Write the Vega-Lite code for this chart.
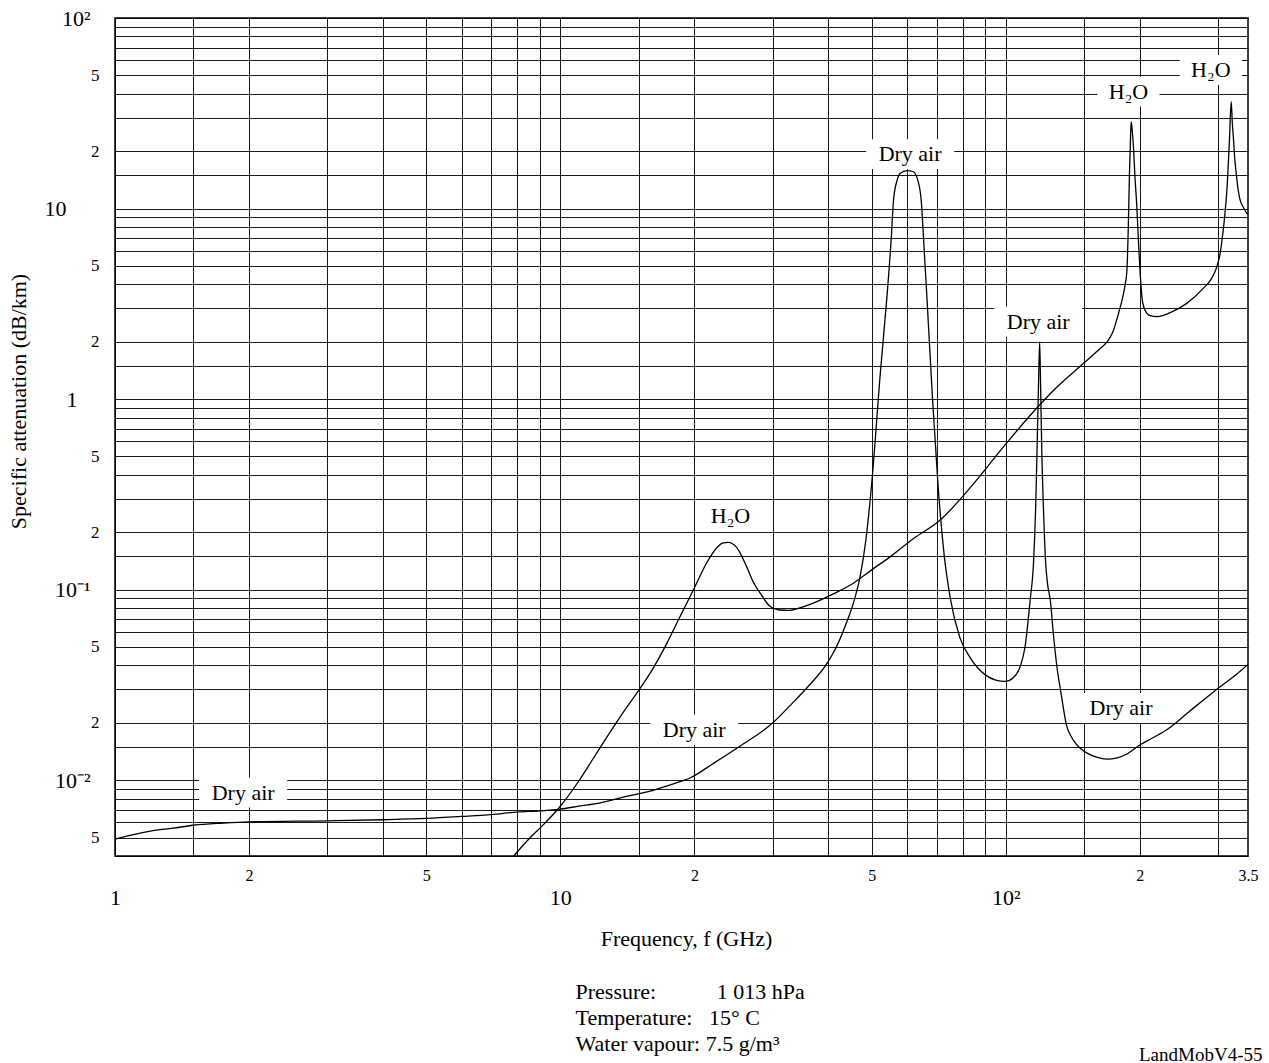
{
  "$schema": "https://vega.github.io/schema/vega-lite/v6.json",
  "width": 1133,
  "height": 838,
  "autosize": {"type": "none"},
  "padding": {"left": 115, "top": 18, "right": 21, "bottom": 207},
  "background": "white",
  "config": {
    "view": {"stroke": "black", "strokeWidth": 1.5},
    "font": "Liberation Serif",
    "axis": {"labelFont": "Liberation Serif", "titleFont": "Liberation Serif", "labelColor": "black", "titleColor": "black", "titleFontWeight": "normal", "labelFlush": false, "labelOverlap": false, "labelBound": false, "ticks": false, "domain": false},
    "title": {"font": "Liberation Serif", "fontWeight": "normal", "color": "black"}
  },
  "title": {"text": "(\u00a0\u00a0\u00a0\u00a0\u00a0\u00a0\u00a0\u00a0\u00a0\u00a0\u00a0\u00a0\u00a0\u00a0\u00a0\u00a0\u00a0\u00a0\u00a0\u00a0\u00a0\u00a0\u00a0)", "orient": "top", "anchor": "middle", "fontSize": 22, "baseline": "alphabetic", "offset": 6, "dx": -37},
  "datasets": {
    "curves": [
      {"series": "dry", "f": 1, "v": 0.0049}, {"series": "dry", "f": 1.1, "v": 0.00518}, {"series": "dry", "f": 1.2, "v": 0.0054}, {"series": "dry", "f": 1.35, "v": 0.0056}, {"series": "dry", "f": 1.5, "v": 0.0058}, {"series": "dry", "f": 1.75, "v": 0.00595}, {"series": "dry", "f": 2, "v": 0.00604}, {"series": "dry", "f": 3, "v": 0.00612}, {"series": "dry", "f": 4, "v": 0.0062}, {"series": "dry", "f": 5, "v": 0.0063}, {"series": "dry", "f": 6, "v": 0.00645}, {"series": "dry", "f": 7, "v": 0.0066}, {"series": "dry", "f": 8, "v": 0.0068}, {"series": "dry", "f": 9, "v": 0.0069}, {"series": "dry", "f": 10, "v": 0.00705}, {"series": "dry", "f": 11, "v": 0.0073}, {"series": "dry", "f": 12.3, "v": 0.0076}, {"series": "dry", "f": 14, "v": 0.0082}, {"series": "dry", "f": 16, "v": 0.0088}, {"series": "dry", "f": 18, "v": 0.0096}, {"series": "dry", "f": 19.6, "v": 0.0103}, {"series": "dry", "f": 22, "v": 0.0122}, {"series": "dry", "f": 25, "v": 0.0148}, {"series": "dry", "f": 30, "v": 0.02}, {"series": "dry", "f": 33, "v": 0.025}, {"series": "dry", "f": 36, "v": 0.031}, {"series": "dry", "f": 39.7, "v": 0.041}, {"series": "dry", "f": 42, "v": 0.052}, {"series": "dry", "f": 44, "v": 0.068}, {"series": "dry", "f": 45.5, "v": 0.085}, {"series": "dry", "f": 47.1, "v": 0.117}, {"series": "dry", "f": 48.5, "v": 0.18}, {"series": "dry", "f": 50.1, "v": 0.377}, {"series": "dry", "f": 52.3, "v": 1.37}, {"series": "dry", "f": 54.2, "v": 3.6}, {"series": "dry", "f": 55.3, "v": 6.8}, {"series": "dry", "f": 56, "v": 11.1}, {"series": "dry", "f": 57, "v": 14}, {"series": "dry", "f": 58, "v": 15.3}, {"series": "dry", "f": 60, "v": 15.8}, {"series": "dry", "f": 62, "v": 15.6}, {"series": "dry", "f": 63.4, "v": 14.2}, {"series": "dry", "f": 64.6, "v": 11.1}, {"series": "dry", "f": 65.5, "v": 6.5}, {"series": "dry", "f": 66.6, "v": 3.3}, {"series": "dry", "f": 68.5, "v": 1.0}, {"series": "dry", "f": 70.5, "v": 0.35}, {"series": "dry", "f": 72.8, "v": 0.15}, {"series": "dry", "f": 75.1, "v": 0.09}, {"series": "dry", "f": 78.9, "v": 0.056}, {"series": "dry", "f": 83.2, "v": 0.044}, {"series": "dry", "f": 90, "v": 0.0357}, {"series": "dry", "f": 95, "v": 0.0335}, {"series": "dry", "f": 99.7, "v": 0.033}, {"series": "dry", "f": 104, "v": 0.0345}, {"series": "dry", "f": 107.8, "v": 0.0395}, {"series": "dry", "f": 110.5, "v": 0.05}, {"series": "dry", "f": 113.5, "v": 0.0885}, {"series": "dry", "f": 115.5, "v": 0.14}, {"series": "dry", "f": 116.8, "v": 0.28}, {"series": "dry", "f": 117.6, "v": 0.54}, {"series": "dry", "f": 118.5, "v": 1.2}, {"series": "dry", "f": 119.2, "v": 2.0}, {"series": "dry", "f": 119.8, "v": 1.15}, {"series": "dry", "f": 120.5, "v": 0.54}, {"series": "dry", "f": 121.6, "v": 0.26}, {"series": "dry", "f": 122.9, "v": 0.14}, {"series": "dry", "f": 124.3, "v": 0.105}, {"series": "dry", "f": 125.9, "v": 0.0885}, {"series": "dry", "f": 128, "v": 0.058}, {"series": "dry", "f": 130.3, "v": 0.0395}, {"series": "dry", "f": 133, "v": 0.029}, {"series": "dry", "f": 137.2, "v": 0.0191}, {"series": "dry", "f": 140, "v": 0.0171}, {"series": "dry", "f": 143, "v": 0.0158}, {"series": "dry", "f": 147, "v": 0.0147}, {"series": "dry", "f": 152, "v": 0.0139}, {"series": "dry", "f": 160, "v": 0.0132}, {"series": "dry", "f": 168.7, "v": 0.0129}, {"series": "dry", "f": 178, "v": 0.0131}, {"series": "dry", "f": 188, "v": 0.0138}, {"series": "dry", "f": 200, "v": 0.0153}, {"series": "dry", "f": 215, "v": 0.0168}, {"series": "dry", "f": 230, "v": 0.0184}, {"series": "dry", "f": 260, "v": 0.0232}, {"series": "dry", "f": 300, "v": 0.0304}, {"series": "dry", "f": 330, "v": 0.036}, {"series": "dry", "f": 350, "v": 0.0405},
      {"series": "wv", "f": 7.5, "v": 0.0035}, {"series": "wv", "f": 8, "v": 0.0042}, {"series": "wv", "f": 8.56, "v": 0.005}, {"series": "wv", "f": 9.2, "v": 0.0059}, {"series": "wv", "f": 10, "v": 0.0073}, {"series": "wv", "f": 11, "v": 0.0099}, {"series": "wv", "f": 12, "v": 0.0136}, {"series": "wv", "f": 13, "v": 0.0182}, {"series": "wv", "f": 14, "v": 0.0236}, {"series": "wv", "f": 15, "v": 0.0296}, {"series": "wv", "f": 16, "v": 0.0372}, {"series": "wv", "f": 17.35, "v": 0.0524}, {"series": "wv", "f": 18.5, "v": 0.071}, {"series": "wv", "f": 19.9, "v": 0.0998}, {"series": "wv", "f": 21.3, "v": 0.138}, {"series": "wv", "f": 22.5, "v": 0.167}, {"series": "wv", "f": 23.2, "v": 0.176}, {"series": "wv", "f": 23.8, "v": 0.177}, {"series": "wv", "f": 24.9, "v": 0.166}, {"series": "wv", "f": 26.2, "v": 0.132}, {"series": "wv", "f": 27.2, "v": 0.108}, {"series": "wv", "f": 28.1, "v": 0.0958}, {"series": "wv", "f": 29.6, "v": 0.0815}, {"series": "wv", "f": 31, "v": 0.0782}, {"series": "wv", "f": 32.5, "v": 0.0778}, {"series": "wv", "f": 34.5, "v": 0.0802}, {"series": "wv", "f": 37, "v": 0.0849}, {"series": "wv", "f": 41, "v": 0.095}, {"series": "wv", "f": 45.5, "v": 0.108}, {"series": "wv", "f": 50, "v": 0.127}, {"series": "wv", "f": 55.1, "v": 0.149}, {"series": "wv", "f": 62, "v": 0.185}, {"series": "wv", "f": 71.3, "v": 0.232}, {"series": "wv", "f": 83, "v": 0.34}, {"series": "wv", "f": 100, "v": 0.58}, {"series": "wv", "f": 115, "v": 0.85}, {"series": "wv", "f": 130, "v": 1.15}, {"series": "wv", "f": 150, "v": 1.55}, {"series": "wv", "f": 162, "v": 1.82}, {"series": "wv", "f": 169, "v": 2.0}, {"series": "wv", "f": 174, "v": 2.25}, {"series": "wv", "f": 179.2, "v": 2.82}, {"series": "wv", "f": 183, "v": 3.4}, {"series": "wv", "f": 185.5, "v": 4.0}, {"series": "wv", "f": 187.1, "v": 4.7}, {"series": "wv", "f": 188.5, "v": 8}, {"series": "wv", "f": 189.6, "v": 15}, {"series": "wv", "f": 190.5, "v": 22}, {"series": "wv", "f": 191.3, "v": 28.6}, {"series": "wv", "f": 192.4, "v": 25.5}, {"series": "wv", "f": 193.6, "v": 21}, {"series": "wv", "f": 195, "v": 15}, {"series": "wv", "f": 197, "v": 10.2}, {"series": "wv", "f": 198.8, "v": 6.5}, {"series": "wv", "f": 200.4, "v": 4.58}, {"series": "wv", "f": 203.2, "v": 3.18}, {"series": "wv", "f": 207.5, "v": 2.82}, {"series": "wv", "f": 212, "v": 2.73}, {"series": "wv", "f": 218.5, "v": 2.71}, {"series": "wv", "f": 226, "v": 2.75}, {"series": "wv", "f": 234, "v": 2.84}, {"series": "wv", "f": 255, "v": 3.18}, {"series": "wv", "f": 278, "v": 3.82}, {"series": "wv", "f": 290, "v": 4.3}, {"series": "wv", "f": 298, "v": 4.96}, {"series": "wv", "f": 303, "v": 5.8}, {"series": "wv", "f": 306, "v": 6.84}, {"series": "wv", "f": 310, "v": 8.9}, {"series": "wv", "f": 313.8, "v": 12.5}, {"series": "wv", "f": 318, "v": 22.9}, {"series": "wv", "f": 320.9, "v": 36.4}, {"series": "wv", "f": 322.8, "v": 28}, {"series": "wv", "f": 324.8, "v": 22.9}, {"series": "wv", "f": 327, "v": 18}, {"series": "wv", "f": 329.3, "v": 15.3}, {"series": "wv", "f": 332.5, "v": 12.6}, {"series": "wv", "f": 336, "v": 11.1}, {"series": "wv", "f": 342, "v": 10.1}, {"series": "wv", "f": 347.9, "v": 9.45}, {"series": "wv", "f": 350, "v": 9.3}
    ],
    "labels": [
      {"label": "Dry air", "f": 1.94, "v": 0.0086},
      {"label": "Dry air", "f": 19.98, "v": 0.0184},
      {"label": "H\u2082O", "f": 24.1, "v": 0.242},
      {"label": "Dry air", "f": 61.0, "v": 19.3},
      {"label": "Dry air", "f": 118.3, "v": 2.55},
      {"label": "H\u2082O", "f": 188.7, "v": 41.1},
      {"label": "H\u2082O", "f": 288.8, "v": 53.4},
      {"label": "Dry air", "f": 181.5, "v": 0.0239}
    ]
  },
  "layer": [
    {
      "data": {"name": "labels"},
      "mark": {"type": "point", "filled": true, "color": "white", "opacity": 1, "strokeWidth": 0},
      "encoding": {
        "x": {"field": "f", "type": "quantitative", "scale": {"type": "log", "domain": [1, 350], "nice": false},
          "axis": {"orient": "bottom", "values": [2, 5, 20, 50, 200, 350], "labelExpr": "datum.value == 350 ? '3.5' : ((datum.value == 5 || datum.value == 50) ? '5' : '2')", "labelFontSize": 16, "labelPadding": 11, "labelBaseline": "top", "grid": false,
            "title": "Frequency, f (GHz)", "titleX": 571, "titleY": 82, "titleAlign": "center", "titleBaseline": "middle", "titleFontSize": 22, "titleAngle": 0}},
        "y": {"field": "v", "type": "quantitative", "scale": {"type": "log", "domain": [0.004, 100], "nice": false},
          "axis": {"orient": "left", "values": [50, 20, 5, 2, 0.5, 0.2, 0.05, 0.02, 0.005], "labelExpr": "indexof([50, 5, 0.5, 0.05, 0.005], datum.value) >= 0 ? '5' : '2'", "labelFontSize": 17, "labelPadding": 16, "grid": false,
            "title": "Specific attenuation (dB/km)", "titleX": -97, "titleY": 383, "titleAngle": -90, "titleAlign": "center", "titleBaseline": "middle", "titleFontSize": 22}},
        "shape": {"condition": {"test": "datum.label == 'Dry air'", "value": "M-1,-0.34L1,-0.34L1,0.34L-1,0.34Z"}, "value": "M-1,-0.48L1,-0.48L1,0.48L-1,0.48Z"},
        "size": {"condition": {"test": "datum.label == 'Dry air'", "value": 7744}, "value": 3844}
      }
    },
    {
      "data": {"name": "curves"},
      "mark": {"type": "line", "color": "black", "strokeWidth": 1.3, "clip": true, "interpolate": "monotone"},
      "encoding": {
        "x": {"field": "f", "type": "quantitative",
          "axis": {"orient": "bottom", "values": [1, 1.5, 2, 3, 4, 5, 6, 7, 8, 9, 10, 15, 20, 30, 40, 50, 60, 70, 80, 90, 100, 150, 200, 300], "grid": true, "labels": false, "gridColor": "black", "gridWidth": 1, "gridOpacity": 0.9,
            "title": "LandMobV4-55", "titleX": 1147, "titleY": 198, "titleAlign": "right", "titleBaseline": "middle", "titleFontSize": 19}},
        "y": {"field": "v", "type": "quantitative",
          "axis": {"orient": "left", "values": [0.004, 0.005, 0.006, 0.007, 0.008, 0.009, 0.01, 0.015, 0.02, 0.03, 0.04, 0.05, 0.06, 0.07, 0.08, 0.09, 0.1, 0.15, 0.2, 0.3, 0.4, 0.5, 0.6, 0.7, 0.8, 0.9, 1, 1.5, 2, 3, 4, 5, 6, 7, 8, 9, 10, 15, 20, 30, 40, 50, 60, 70, 80, 90, 100], "grid": true, "labels": false, "gridColor": "black", "gridWidth": 1, "gridOpacity": 0.9, "title": null}},
        "detail": {"field": "series"}
      }
    },
    {
      "data": {"name": "labels"},
      "transform": [{"filter": "datum.label == 'Dry air'"}],
      "mark": {"type": "text", "fontSize": 22, "font": "Liberation Serif", "baseline": "middle", "align": "center", "color": "black"},
      "encoding": {
        "x": {"field": "f", "type": "quantitative",
          "axis": {"orient": "bottom", "values": [1, 10, 100], "labelExpr": "datum.value == 1 ? '1' : (datum.value == 10 ? '10' : '10\u00b2')", "labelFontSize": 22, "labelPadding": 31, "labelBaseline": "top", "grid": false,
            "title": ["Pressure:\u00a0\u00a0\u00a0\u00a0\u00a0\u00a0\u00a0\u00a0\u00a0\u00a0\u00a01\u00a0013 hPa", "Temperature:\u00a0\u00a0\u00a015\u00b0 C", "Water vapour: 7.5 g/m\u00b3"], "titleX": 460, "titleY": 125, "titleAlign": "left", "titleBaseline": "top", "titleLineHeight": 26, "titleFontSize": 22, "titleAngle": 0}},
        "y": {"field": "v", "type": "quantitative",
          "axis": {"orient": "left", "values": [100, 0.1, 0.01], "labelExpr": "datum.value == 100 ? '10\u00b2' : (datum.value == 0.1 ? '10\u207b\u00b9' : '10\u207b\u00b2')", "labelFontSize": 22, "labelPadding": 25, "grid": false, "title": null}},
        "text": {"field": "label"}
      }
    },
    {
      "data": {"name": "labels"},
      "transform": [{"filter": "datum.label != 'Dry air'"}],
      "mark": {"type": "text", "fontSize": 22, "font": "Liberation Serif", "baseline": "middle", "align": "center", "color": "black"},
      "encoding": {
        "x": {"field": "f", "type": "quantitative", "axis": null},
        "y": {"field": "v", "type": "quantitative",
          "axis": {"orient": "left", "values": [10, 1], "labelExpr": "datum.value == 10 ? '10' : '1'", "labelFontSize": 22, "labelPadding": 49, "labelAlign": {"condition": {"test": "datum.value == 1", "value": "left"}, "value": "right"}, "grid": false, "title": null}},
        "text": {"field": "label"}
      }
    }
  ],
  "resolve": {"axis": {"x": "independent", "y": "independent"}}
}
